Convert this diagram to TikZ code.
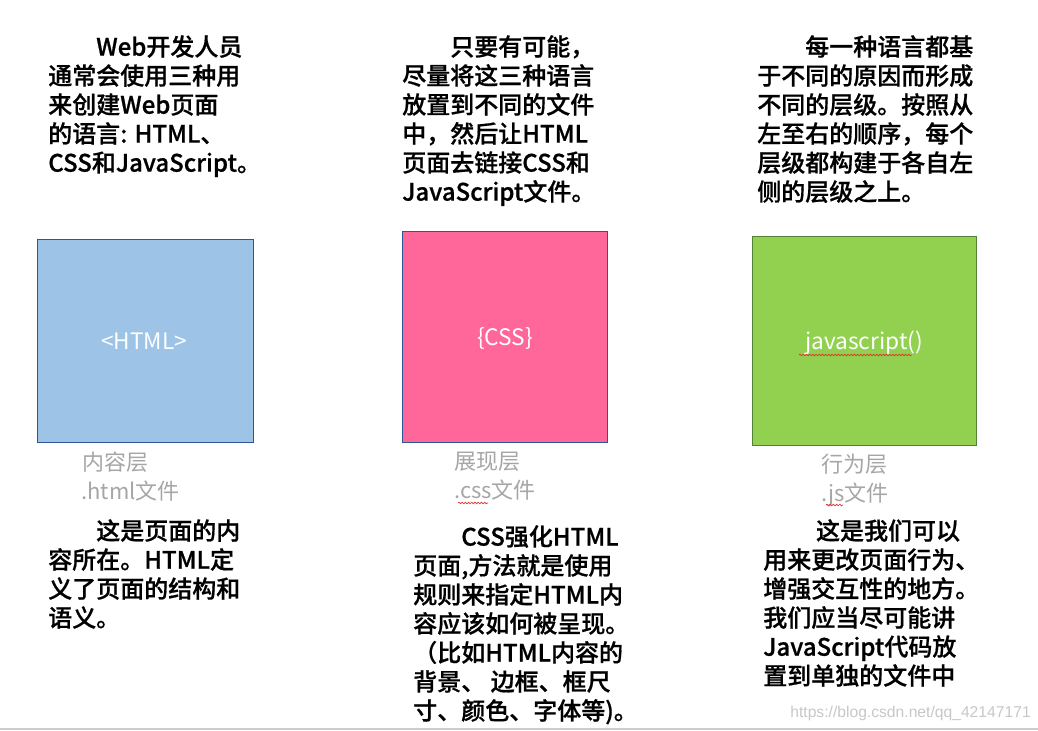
\documentclass[tikz,border=0pt]{standalone}
\usepackage{fontspec}
\setmainfont{Noto Sans CJK SC}[BoldFont={Noto Sans CJK SC Medium},
  BoldFeatures={FakeBold=0.7}]
\newfontfamily\urlfont{Liberation Sans}
\usetikzlibrary{positioning,decorations.pathmorphing}
\definecolor{htmlblue}{HTML}{9DC3E6}
\definecolor{csspink}{HTML}{FF6699}
\definecolor{jsgreen}{HTML}{92D050}
\definecolor{bordblue}{HTML}{2F5597}
\definecolor{bordgreen}{HTML}{548235}
\definecolor{lblgray}{HTML}{A6A6A6}
\definecolor{spellred}{HTML}{E03030}

\begin{document}
\begin{tikzpicture}[
    x=0.75pt, y=-0.75pt,
    para/.style={anchor=north west, inner sep=0pt, align=left,
      font=\fontsize{18pt}{21.75pt}\selectfont\bfseries},
    layerbox/.style={draw=bordblue, line width=0.6pt, anchor=north west,
      inner sep=0pt},
    tagtext/.style={text=white, font=\fontsize{17pt}{20pt}\selectfont},
    lbl/.style={anchor=north west, inner sep=0pt, align=left, text=lblgray,
      font=\fontsize{16.5pt}{21.75pt}\selectfont},
    squiggle/.style={spellred, line width=0.5pt,
      decorate, decoration={snake, amplitude=0.6pt, segment length=2.4pt}}
  ]
    \useasboundingbox (0,0) rectangle (1038,731);
    % Textes du haut
    \node[para] (htmltop) at (48,35) {\hspace*{2em}Web开发人员\\
      通常会使用三种用\\
      来创建Web页面\\
      的语言: HTML、\\
      CSS和JavaScript。};
    \node[para] (csstop) at (402,35) {\hspace*{2em}只要有可能，\\
      尽量将这三种语言\\
      放置到不同的文件\\
      中，然后让HTML\\
      页面去链接CSS和\\
      JavaScript文件。};
    \node[para] (jstop) at (757,35) {\hspace*{2em}每一种语言都基\\
      于不同的原因而形成\\
      不同的层级。按照从\\
      左至右的顺序，每个\\
      层级都构建于各自左\\
      侧的层级之上。};
    % Les trois couches
    \node[layerbox, fill=htmlblue, minimum width=162pt, minimum height=152.25pt]
          (html) at (37,239) {};
    \node[layerbox, fill=csspink, minimum width=153.75pt, minimum height=158.25pt]
          (css) at (402,231) {};
    \node[layerbox, fill=jsgreen, draw=bordgreen, minimum width=168pt,
          minimum height=156.75pt] (js) at (752,236) {};
    \node[tagtext] (htmltag) at (144,341) {<HTML>};
    \node[tagtext] (csstag) at (505,338) {\{CSS\}};
    \node[tagtext] (jstag) at (864,343) {javascript()};
    \draw[squiggle] ([xshift=-1pt,yshift=-9pt]jstag.west) -- ([xshift=-12pt,yshift=-9pt]jstag.east);
    % Noms des couches
    \node[lbl] (htmllbl) at (81,452) {\hspace*{1pt}内容层\\.html文件};
    \node[lbl] (csslbl) at (454,452) {展现层\\.css文件};
    \node[lbl] (jslbl) at (821,454) {行为层\\.js文件};
    \draw[squiggle] (458,503) -- (488,503);
    \draw[squiggle] (826,505) -- (843,505);
    % Textes du bas
    \node[para] (htmlbot) at (48,519) {\hspace*{2em}这是页面的内\\
      容所在。HTML定\\
      义了页面的结构和\\
      语义。};
    \node[para] (cssbot) at (413,525) {\hspace*{2em}CSS强化HTML\\
      页面,方法就是使用\\
      规则来指定HTML内\\
      容应该如何被呈现。\\
      （比如HTML内容的\\
      背景、 边框、框尺\\
      寸、颜色、字体等)。};
    \node[para] (jsbot) at (763,519) {\hspace*{2.2em}这是我们可以\\
      用来更改页面行为、\\
      增强交互性的地方。\\
      我们应当尽可能讲\\
      JavaScript代码放\\
      置到单独的文件中};
    % Filigrane et bord
    \node[text=black!22, font=\urlfont\fontsize{11.75pt}{14pt}\selectfont,
          anchor=east, inner sep=0pt] (url) at (1031,713) {https://blog.csdn.net/qq\_42147171};
    \draw[black!20, line width=1.5pt] (0,729) -- (1038,729);
  \end{tikzpicture}
\end{document}
